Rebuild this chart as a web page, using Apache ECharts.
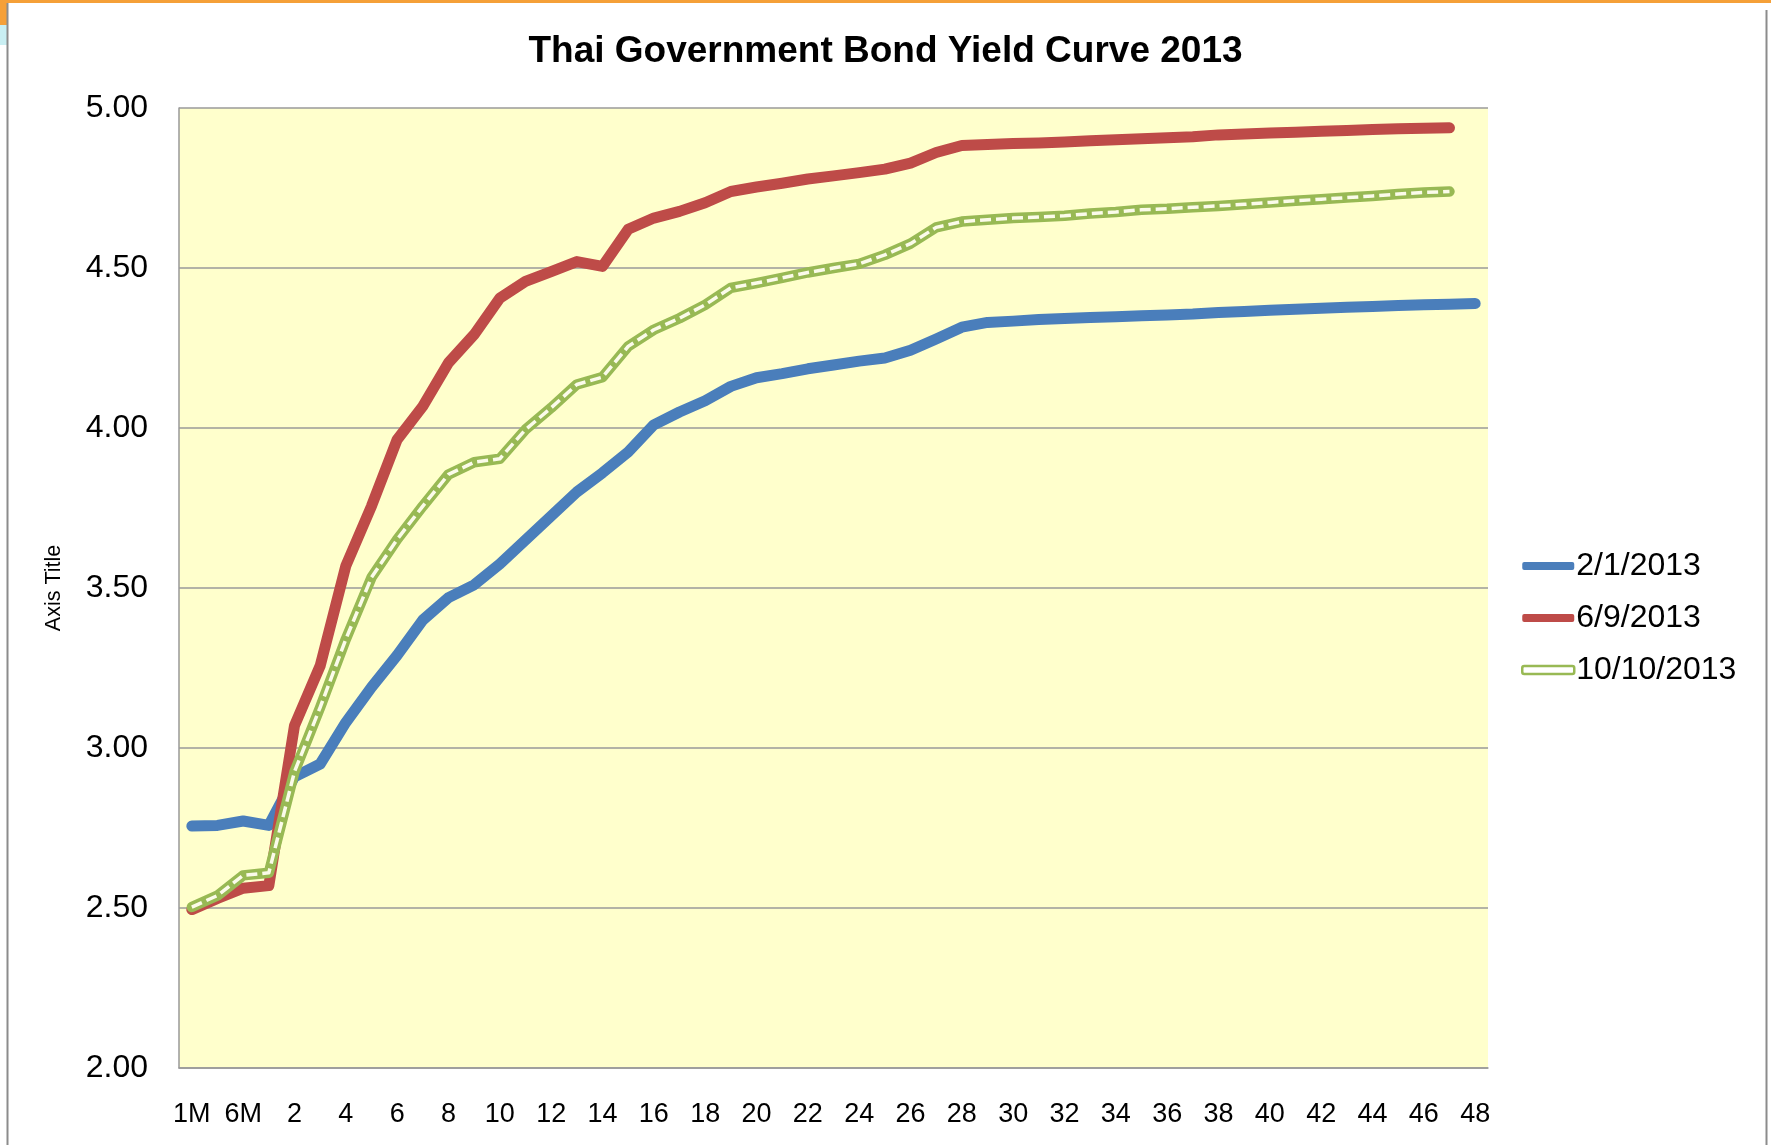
<!DOCTYPE html>
<html>
<head>
<meta charset="utf-8">
<title>Thai Government Bond Yield Curve 2013</title>
<script src="https://cdn.jsdelivr.net/npm/echarts@6/dist/echarts.min.js"></script>
<style>
  html, body { margin: 0; padding: 0; background: #ffffff; }
  #chart { width: 1771px; height: 1145px; }
</style>
</head>
<body>
<div id="chart"></div>
<script>
// Maturities: 1M, 3M, 6M, then years 1..48
const maturities = ['1M', '3M', '6M'];
for (let y = 1; y <= 48; y++) maturities.push(String(y));

const seriesNames = ['2/1/2013', '6/9/2013', '10/10/2013'];

// Yields (%) per maturity
const yield_2013_01_02 = [
  2.756, 2.758, 2.772, 2.758, 2.910, 2.950, 3.080, 3.190, 3.290, 3.400,
  3.470, 3.510, 3.575, 3.650, 3.725, 3.800, 3.860, 3.925, 4.010, 4.050,
  4.085, 4.130, 4.157, 4.170, 4.185, 4.197, 4.209, 4.219, 4.243, 4.278,
  4.315, 4.330, 4.334, 4.339, 4.342, 4.345, 4.348, 4.351, 4.353, 4.356,
  4.361, 4.364, 4.368, 4.371, 4.374, 4.377, 4.380, 4.383, 4.385, 4.387,
  4.389
];
const yield_2013_09_06 = [
  2.495, 2.530, 2.562, 2.570, 3.070, 3.257, 3.569, 3.756, 3.964, 4.068,
  4.204, 4.292, 4.406, 4.458, 4.489, 4.520, 4.505, 4.621, 4.656, 4.677,
  4.704, 4.739, 4.753, 4.765, 4.778, 4.788, 4.798, 4.809, 4.828, 4.861,
  4.883, 4.886, 4.889, 4.891, 4.894, 4.898, 4.901, 4.904, 4.907, 4.910,
  4.916, 4.919, 4.922, 4.924, 4.927, 4.930, 4.933, 4.935, 4.937, 4.938
];
const yield_2013_10_10 = [
  2.503, 2.539, 2.602, 2.610, 2.926, 3.127, 3.340, 3.533, 3.652, 3.756,
  3.855, 3.893, 3.904, 3.995, 4.063, 4.136, 4.159, 4.255, 4.307, 4.343,
  4.385, 4.438, 4.453, 4.469, 4.486, 4.500, 4.513, 4.541, 4.576, 4.627,
  4.645, 4.651, 4.656, 4.659, 4.663, 4.670, 4.675, 4.682, 4.685, 4.690,
  4.694, 4.699, 4.705, 4.710, 4.715, 4.720, 4.725, 4.731, 4.736, 4.739
];

const BLUE = '#4a7ebb';
const RED = '#be4b48';
const GREEN = '#98b954';
const LABEL_FONT = "'Liberation Sans', Arial, sans-serif";

const chart = echarts.init(document.getElementById('chart'), null, { renderer: 'canvas' });

const solidLine = (color) => ({ color: color, width: 11, cap: 'round', join: 'round' });

chart.setOption({
  backgroundColor: '#ffffff',
  animation: false,
  title: {
    text: 'Thai Government Bond Yield Curve 2013',
    left: 'center',
    top: 28,
    textStyle: {
      fontFamily: LABEL_FONT,
      fontWeight: 'bold',
      fontSize: 37,
      lineHeight: 37,
      color: '#000000'
    }
  },
  legend: {
    orient: 'vertical',
    left: 1516,
    top: 545,
    itemWidth: 52,
    itemHeight: 8,
    itemGap: 20,
    textStyle: {
      fontFamily: LABEL_FONT,
      fontSize: 32,
      lineHeight: 32,
      color: '#000000',
      padding: [0, 0, 0, -3]
    },
    data: [
      { name: seriesNames[0], icon: 'roundRect', itemStyle: { color: BLUE, borderWidth: 0 } },
      { name: seriesNames[1], icon: 'roundRect', itemStyle: { color: RED, borderWidth: 0 } },
      { name: seriesNames[2], icon: 'roundRect', itemStyle: { color: '#ffffff', borderColor: GREEN, borderWidth: 2.5 } }
    ]
  },
  grid: {
    left: 179,
    top: 108,
    width: 1309,
    height: 960,
    show: true,
    backgroundColor: '#ffffcc',
    borderWidth: 0
  },
  xAxis: {
    type: 'category',
    data: maturities,
    boundaryGap: true,
    axisLine: { show: true, lineStyle: { color: '#999999', width: 1.5 } },
    axisTick: { show: false },
    axisLabel: {
      interval: 1,
      margin: 33.5,
      fontFamily: LABEL_FONT,
      fontSize: 27,
      color: '#000000'
    },
    splitLine: { show: false }
  },
  yAxis: {
    type: 'value',
    min: 2,
    max: 5,
    interval: 0.5,
    name: 'Axis Title',
    nameLocation: 'middle',
    nameRotate: 90,
    nameGap: 114,
    nameTextStyle: {
      fontFamily: LABEL_FONT,
      fontSize: 21.5,
      color: '#000000'
    },
    axisLine: { show: true, lineStyle: { color: '#999999', width: 1.5 } },
    axisTick: { show: false },
    axisLabel: {
      margin: 31,
      fontFamily: LABEL_FONT,
      fontSize: 32,
      color: '#000000',
      formatter: (v) => v.toFixed(2)
    },
    splitLine: { show: true, lineStyle: { color: '#9a9a9a', width: 1.5 } }
  },
  series: [
    {
      name: seriesNames[0],
      type: 'line',
      data: yield_2013_01_02,
      showSymbol: false,
      symbol: 'none',
      lineStyle: solidLine(BLUE),
      itemStyle: { color: BLUE },
      z: 2
    },
    {
      name: seriesNames[1],
      type: 'line',
      data: yield_2013_09_06,
      showSymbol: false,
      symbol: 'none',
      lineStyle: solidLine(RED),
      itemStyle: { color: RED },
      z: 3
    },
    {
      // outer band of the double line
      name: seriesNames[2],
      type: 'line',
      data: yield_2013_10_10,
      showSymbol: false,
      symbol: 'none',
      lineStyle: { color: GREEN, width: 10.5, cap: 'round', join: 'round' },
      itemStyle: { color: GREEN },
      z: 4
    },
    {
      // pale dashed core of the double line
      name: seriesNames[2],
      type: 'line',
      data: yield_2013_10_10,
      showSymbol: false,
      symbol: 'none',
      lineStyle: { color: '#fbfbea', width: 3.5, type: [11, 5], cap: 'butt', join: 'round' },
      itemStyle: { color: GREEN },
      z: 5
    }
  ],
  graphic: [
    // window frame around the chart
    { type: 'rect', shape: { x: 0, y: 0, width: 1771, height: 3 }, style: { fill: '#f5a038' }, silent: true },
    { type: 'rect', shape: { x: 0, y: 0, width: 7, height: 25 }, style: { fill: '#f5a038' }, silent: true },
    { type: 'rect', shape: { x: 0, y: 25, width: 7, height: 20 }, style: { fill: '#c9eff3' }, silent: true },
    { type: 'line', shape: { x1: 7.5, y1: 3, x2: 7.5, y2: 1145 }, style: { stroke: '#8c8c8c', lineWidth: 2 }, silent: true },
    { type: 'line', shape: { x1: 1766.5, y1: 10, x2: 1766.5, y2: 1145 }, style: { stroke: '#8c8c8c', lineWidth: 2 }, silent: true }
  ]
});
</script>
</body>
</html>
